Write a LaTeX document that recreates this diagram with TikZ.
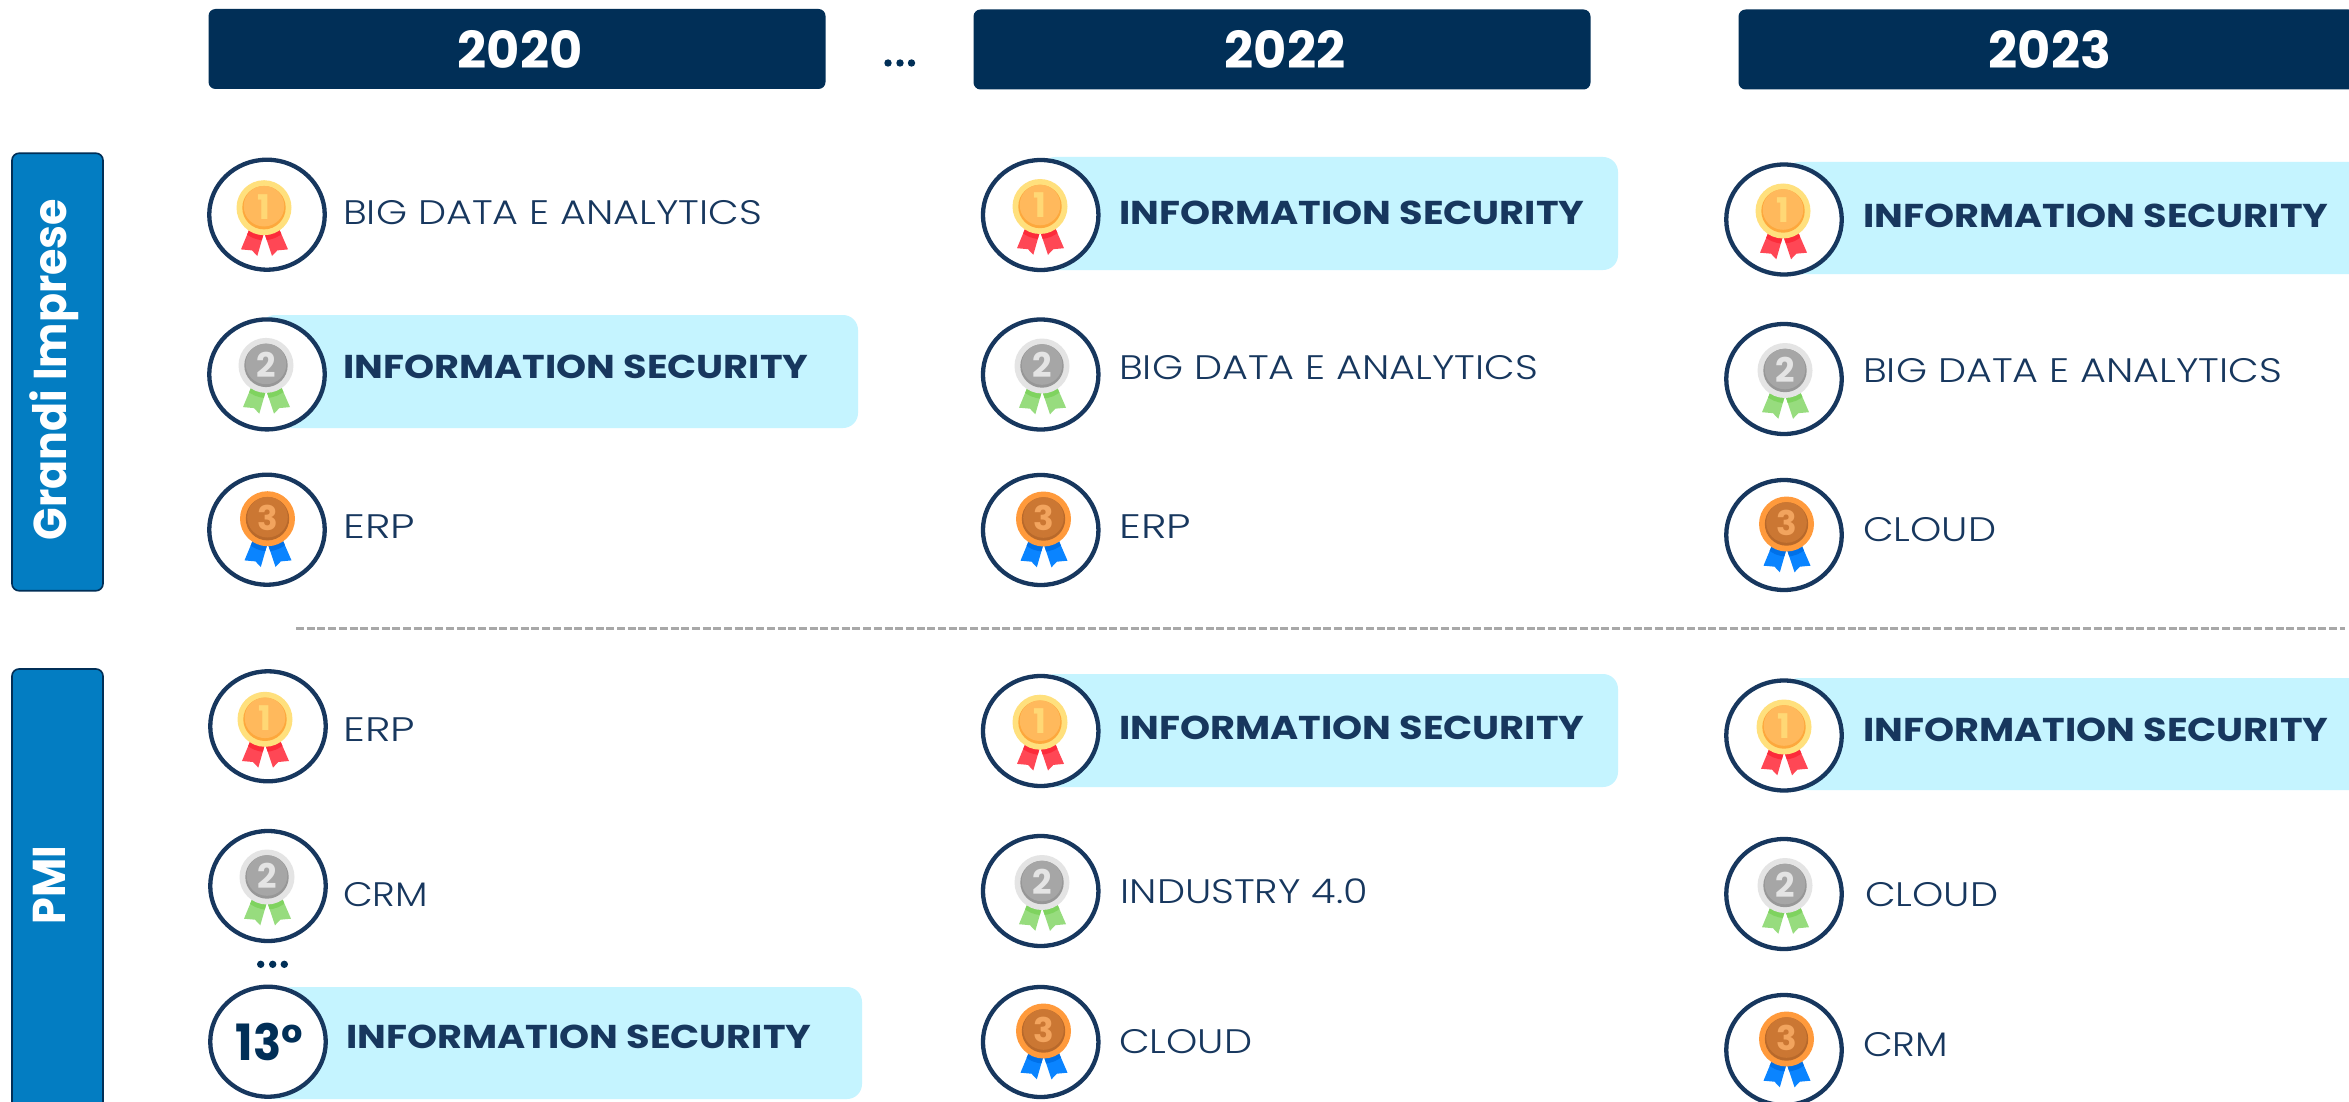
\documentclass[tikz,border=0pt]{standalone}
\usepackage{fontspec}
\setmainfont{Poppins}[UprightFont=* Light,BoldFont=* Bold]
\newfontfamily\itemfont{Poppins Light}[FakeStretch=1.17]
\newfontfamily\bolditemfont{Poppins Bold}[FakeStretch=1.16]
\newfontfamily\sidefont{Poppins Bold}[FakeStretch=0.93]
\usetikzlibrary{shapes.geometric}
\definecolor{navy}{HTML}{17375E}
\definecolor{hdrblue}{HTML}{012F57}
\definecolor{sideblue}{HTML}{037DC2}
\definecolor{band}{HTML}{C5F4FF}
\definecolor{dashc}{HTML}{A8A8A8}
\tikzset{
  hdrbox/.style={fill=hdrblue,rounded corners=7pt,inner sep=0pt,text=white,font=\bfseries\fontsize{51}{51}\selectfont,minimum height=80pt,minimum width=617pt},
  sidebox/.style={fill=sideblue,draw=hdrblue,line width=1.6pt,rounded corners=7pt},
  ring/.style={ellipse,draw=navy,line width=4.3pt,fill=white,minimum width=115.5pt,minimum height=110pt,inner sep=0pt},
  bandbox/.style={fill=band,rounded corners=15pt},
  item/.style={anchor=base west,inner sep=0pt,text=navy,font=\itemfont\fontsize{34}{34}\selectfont},
  bolditem/.style={anchor=base west,inner sep=0pt,text=navy,font=\bolditemfont\fontsize{33}{33}\selectfont},
  sidetext/.style={rotate=90,inner sep=0pt,text=white,font=\sidefont\fontsize{46}{46}\selectfont},
  dot/.style={fill=hdrblue}
}
% #1 dx, #2 dy, #3 rim, #4 face, #5 shade, #6 digit colour, #7 ribbon, #8 ribbon dark, #9 digit
\newcommand{\medalart}[9]{%
  \begin{scope}[shift={(#1,#2)}]
    \fill[#7] (-17.7,14.7)--(-3.7,20.3)--(-9.7,41.3)--(-15,35.7)--(-26,34.7)--cycle;
    \fill[#7] (-2,20.3)--(12.3,14.7)--(21,34.7)--(10.3,35.7)--(5,41.3)--cycle;
    \begin{scope}
      \clip (-17.7,14.7)--(-3.7,20.3)--(-9.7,41.3)--(-15,35.7)--(-26,34.7)--cycle
            (-2,20.3)--(12.3,14.7)--(21,34.7)--(10.3,35.7)--(5,41.3)--cycle;
      \fill[#8] (-3,-3) circle (28.5);
    \end{scope}
    \fill[#3] (-3,-7) circle (27.5);
    \fill[#5] (-3,-7) circle (21.7);
    \fill[#4] (-3,-8.5) circle (20.3);
    \node[inner sep=0pt,text=#6,font=\bfseries\fontsize{34}{34}\selectfont] at (-3,-8) {#9};
  \end{scope}}
\newcommand{\medalone}[2]{\medalart{#1}{#2}{gold1}{gold2}{gold3}{gold4}{red1}{red2}{1}}
\newcommand{\medaltwo}[2]{\medalart{#1+2}{#2-2}{silv1}{silv2}{silv3}{silv1}{green1}{green2}{2}}
\newcommand{\medalthree}[2]{\medalart{#1+3.5}{#2-4}{bron1}{bron2}{bron3}{bron4}{blue1}{blue2}{3}}
\definecolor{gold1}{HTML}{FFE07D}\definecolor{gold2}{HTML}{FFB95C}\definecolor{gold3}{HTML}{FDA83D}\definecolor{gold4}{HTML}{FFD875}
\definecolor{red1}{HTML}{FF4755}\definecolor{red2}{HTML}{FC2B3A}
\definecolor{silv1}{HTML}{E4E4E4}\definecolor{silv2}{HTML}{A6A6A6}\definecolor{silv3}{HTML}{979797}
\definecolor{green1}{HTML}{97DC7E}\definecolor{green2}{HTML}{7FD35F}
\definecolor{bron1}{HTML}{FF9A3C}\definecolor{bron2}{HTML}{CB7733}\definecolor{bron3}{HTML}{B8692B}\definecolor{bron4}{HTML}{F2A45E}
\definecolor{blue1}{HTML}{0A84FF}\definecolor{blue2}{HTML}{0070E8}
\newcommand{\erp}{\scalebox{1.09}[1]{ERP}}
\begin{document}
\begin{tikzpicture}[x=1pt,y=-1pt]
\useasboundingbox (0,0) rectangle (2349,1102);
\clip (0,0) rectangle (2349,1102);
\fill[white] (0,0) rectangle (2349,1102);
% headers
\node[hdrbox] (h2020) at (517,49) {\hspace*{6pt}2020};
\node[hdrbox] (h2022) at (1282,49.5) {\hspace*{6pt}2022};
\node[hdrbox] (h2023) at (2047,49.5) {\hspace*{6pt}2023};
\fill[dot] (888,63) circle (3.7) (900,63) circle (3.7) (911.5,63) circle (3.7);
% side boxes
\node[sidebox,minimum width=91pt,minimum height=437.5pt,inner sep=0pt] (grandi) at (57.5,372) {};
\node[sidebox,minimum width=91pt,minimum height=480pt,inner sep=0pt] (pmi) at (57.5,909) {};
\node[sidetext,anchor=base] (tgrandi) at (66,369.5) {Grandi Imprese};
\node[sidetext,anchor=base] (tpmi) at (65,885) {PMI};
% separator
\coordinate (sepA) at (296,628.3);
\coordinate (sepB) at (2345,628.3);
\draw[dashc,line width=2.4pt,dash pattern=on 8pt off 2.7pt] (sepA) -- (sepB);
% bands
\fill[bandbox] (260,315) rectangle (858,428);
\fill[bandbox] (260,987) rectangle (862,1099);
\fill[bandbox] (1040,157) rectangle (1618,270);
\fill[bandbox] (1040,674) rectangle (1618,787);
\fill[bandbox] (1784,162) rectangle (2380,274);
\fill[bandbox] (1784,678) rectangle (2380,790);
% column 2020
\node[ring] (a1) at (267,214.7) {}; \medalone{267}{214.7}
\node[ring] (a2) at (267,374.4) {}; \medaltwo{267}{374.4}
\node[ring] (a3) at (267,529.7) {}; \medalthree{267}{529.7}
\node[ring] (a4) at (268,726.3) {}; \medalone{268}{726.3}
\node[ring] (a5) at (268,886) {}; \medaltwo{268}{886}
\fill[dot] (260.7,964.3) circle (3.7) (272.7,964.3) circle (3.7) (284.3,964.3) circle (3.7);
\node[ring,text=hdrblue,font=\bfseries\fontsize{50}{50}\selectfont] (a6) at (268,1041.7) {\hspace*{3pt}\scalebox{0.93}[1]{13°}};
\node[item] (ta1) at (343,225) {BIG DATA E ANALYTICS};
\node[bolditem] (ta2) at (343,378) {INFORMATION SECURITY};
\node[item] (ta3) at (343,538) {\erp};
\node[item] (ta4) at (343,741) {\erp};
\node[item] (ta5) at (343,906) {\scalebox{0.97}[1]{CRM}};
\node[bolditem] (ta6) at (346,1048) {INFORMATION SECURITY};
% column 2022
\node[ring] (b1) at (1040.7,215) {}; \medalone{1043}{213.5}
\node[ring] (b2) at (1040.7,374.5) {}; \medaltwo{1043}{375}
\node[ring] (b3) at (1040.7,530) {}; \medalthree{1043}{530}
\node[ring] (b4) at (1040.7,731) {}; \medalone{1043}{729.2}
\node[ring] (b5) at (1040.7,891) {}; \medaltwo{1043}{891.5}
\node[ring] (b6) at (1040.7,1042) {}; \medalthree{1043}{1042}
\node[bolditem] (tb1) at (1119,224) {INFORMATION SECURITY};
\node[item] (tb2) at (1119,379.5) {BIG DATA E ANALYTICS};
\node[item] (tb3) at (1119,538) {\erp};
\node[bolditem] (tb4) at (1119,739) {INFORMATION SECURITY};
\node[item] (tb5) at (1120.5,903) {INDUSTRY 4.0};
\node[item] (tb6) at (1119,1053) {CLOUD};
% column 2023
\node[ring] (c1) at (1784,219.5) {}; \medalone{1786}{218}
\node[ring] (c2) at (1784,379) {}; \medaltwo{1786}{379.5}
\node[ring] (c3) at (1784,535) {}; \medalthree{1786}{535}
\node[ring] (c4) at (1784,735.5) {}; \medalone{1787}{734}
\node[ring] (c5) at (1784,894) {}; \medaltwo{1786}{894.5}
\node[ring] (c6) at (1784,1050) {}; \medalthree{1786}{1050}
\node[bolditem] (tc1) at (1863,227) {INFORMATION SECURITY};
\node[item] (tc2) at (1863,382) {BIG DATA E ANALYTICS};
\node[item] (tc3) at (1863,541) {CLOUD};
\node[bolditem] (tc4) at (1863,741.7) {INFORMATION SECURITY};
\node[item] (tc5) at (1865,906) {CLOUD};
\node[item] (tc6) at (1863,1056) {\scalebox{0.97}[1]{CRM}};
\end{tikzpicture}
\end{document}
